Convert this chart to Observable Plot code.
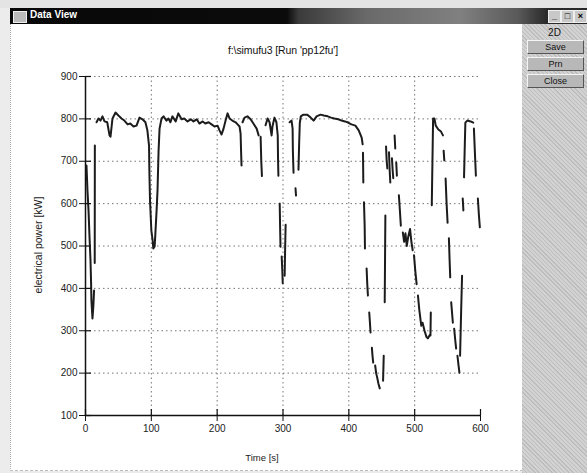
<!DOCTYPE html>
<html><head><meta charset="utf-8">
<script src="https://cdn.jsdelivr.net/npm/d3@7"></script>
<script src="https://cdn.jsdelivr.net/npm/@observablehq/plot@0.6"></script>
<style>
body{margin:0;width:587px;height:473px;overflow:hidden;background:#ececec;font-family:"Liberation Sans",Arial,sans-serif;position:relative}
#top{position:absolute;left:0;top:0;width:587px;height:8px;background:#e4e4e4}
#titlebar{position:absolute;left:10px;top:8px;width:577px;height:16px;background:linear-gradient(to right,#080808 0%,#0b0b0b 48%,#3a3a3a 50%,#6a6a6a 62%,#808080 78%,#5a5a5a 88%,#2a2a2a 93%)}
#titlebar .t{position:absolute;left:20px;top:1px;color:#fff;font-size:10px;font-weight:bold}
#titlebar .ic{position:absolute;left:3px;top:3px;width:12px;height:10px;background:#bbb;border:1px solid #eee}
.wb{position:absolute;top:2px;width:11px;height:11px;background:#c8c8c8;border:1px solid #eee;font-size:9px;line-height:11px;text-align:center;color:#000;font-weight:bold}
#win{position:absolute;left:10px;top:24px;width:512px;height:446px;background:#fff;border-left:1px dotted #aaa;border-bottom:1px dashed #bbb}
#plot{position:absolute;left:10px;top:25px}
#panel{position:absolute;left:522px;top:24px;width:65px;height:449px;background:#c9c9c9;background-image:repeating-linear-gradient(45deg,#bdbdbd 0 1px,#d2d2d2 1px 3px)}
.lbl2d{position:absolute;left:0;width:65px;top:3px;text-align:center;font-size:10px;color:#111}
.btn{position:absolute;left:5px;width:55px;height:12px;background:#b8b8b8;border:1px solid;border-color:#f4f4f4 #555 #555 #f4f4f4;font-size:9px;line-height:12px;text-align:center;color:#111}
#title{position:absolute;left:10px;width:546px;top:44px;text-align:center;font-size:10.5px;letter-spacing:-0.1px;color:#111}
#ylab{position:absolute;left:38px;top:245px;transform:translate(-50%,-50%) rotate(-90deg);font-size:10.5px;white-space:nowrap;color:#222}
#xlab{position:absolute;left:262px;top:457px;transform:translate(-50%,-50%);font-size:9.5px;color:#222}
</style></head>
<body>
<div id="top"></div>
<div id="titlebar"><div class="ic"></div><div class="t">Data View</div>
<div class="wb" style="left:538px">_</div><div class="wb" style="left:551px">□</div><div class="wb" style="left:564px">×</div></div>
<div id="win"></div>
<div id="panel"><div class="lbl2d">2D</div>
<div class="btn" style="top:16px">Save</div>
<div class="btn" style="top:33px">Prn</div>
<div class="btn" style="top:50px">Close</div></div>
<div id="plot"></div>
<div id="title">f:\simufu3 [Run 'pp12fu']</div>
<div id="ylab">electrical power [kW]</div>
<div id="xlab">Time [s]</div>
<script>
const xTicks = [0, 100, 200, 300, 400, 500, 600];
const yTicks = [100, 200, 300, 400, 500, 600, 700, 800, 900];
const xGrid = [100, 200, 300, 400, 500];
const yGrid = [200, 300, 400, 500, 600, 700, 800, 900];

// [time s, power kW] — each inner list is one unbroken piece of the trace
const traceSegments = [
  [[1.5,690],[3,631],[4.6,584],[6,525],[7.6,466],[8.4,419],[9,371],[10.6,329],[12,360],[13,395]],
  [[14,460],[14.2,737]],
  [[16.7,792],[19.8,801],[22.8,796],[25.8,806],[28.9,794],[33,792],[36.5,761],[38,758],[41,801],[45.6,815],[50,808],[54.7,801],[59,796],[64,787],[68,789],[73,782],[77.5,784],[82,803],[86.6,799],[91,792],[94,773],[96.5,737],[97,678],[98,607],[99,572],[100,537],[102,513],[103,494],[105,499],[106,525],[108,584],[109.4,631],[111,725],[112.5,777],[115.5,801],[118.5,806],[123,796],[126,801],[129,792],[132,806],[137,794],[141,813],[146,799],[150,801],[155,794],[160,799],[164,794],[169,799],[173,789],[178,794],[182,789],[187,792],[191.5,787],[196,782],[200.6,784],[203.6,773],[206.7,763],[209.7,777],[212.8,796],[215.8,813],[218.8,801],[223,796],[228,792],[231,787],[234,782],[235.6,765],[236.3,725],[237,690]],
  [[238.6,792],[241.6,803],[246,806],[250.8,799],[255,789],[260,777],[263,761]],
  [[266,758],[267,700],[268,665]],
  [[273.5,785],[276.6,801],[279.6,792],[282.7,761],[284,782],[287,803],[290,792],[292,761],[292.5,702],[293,666]],
  [[295,600],[295.6,545],[296.2,498]],
  [[298,475],[299,440],[299.6,412]],
  [[302.5,430],[303.2,490],[304,550]],
  [[310,792],[313,796],[314.6,777],[315,725],[316,673]],
  [[319,636],[319.8,619]],
  [[323.5,680],[324.5,740],[325.5,790],[327,806],[331,810],[337,810],[342,803],[346.5,796],[351,806],[357,810],[362,808],[368,806],[373,803],[378,801],[384,799],[389,796],[394,794],[398,792],[404,787],[410,784],[415,773],[419.5,756],[421,740]],
  [[421.5,720],[422,650]],
  [[423,603],[424,550],[424.5,494]],
  [[427,447],[428,410],[429,383]],
  [[431,343],[432,320],[433,296]],
  [[435,260],[436,240],[437,225]],
  [[440,218],[441.5,200],[443,190],[445,175],[447,164]],
  [[452,182],[452.5,210],[453,241]],
  [[454.5,367],[455,470],[455.5,572]],
  [[456.5,735],[457.5,700],[458.5,683]],
  [[461,721],[462,680],[463,650]],
  [[465.5,707],[466.5,680],[467.5,660]],
  [[469.5,761],[470.5,730]],
  [[472,697],[473,666]],
  [[476,620],[477.5,585],[479,548]],
  [[482,532],[484,510],[486,530],[488,500],[490,520],[493,540],[495,510],[497,490]],
  [[499,478],[501,440],[503,410]],
  [[505,383],[507,350],[510,312],[512,319],[515,300],[518,285],[520,282],[523,290]],
  [[524,289],[524.5,343]],
  [[526,596],[527,700],[528,801],[530,801],[532,784],[536,775],[540,770],[543,761]],
  [[544,725],[545,702]],
  [[547,659],[548.5,600],[550,555]],
  [[552,518],[553,470],[554,426]],
  [[555.5,367],[558,319]],
  [[560,305],[561.5,280],[563,258]],
  [[565,241],[566.5,220],[568,201]],
  [[569,241],[570.5,340],[572,430]],
  [[573,612],[574,584]],
  [[575,662],[576,730],[577,791],[580,796],[585,794],[589,791]],
  [[590,777],[591.5,720],[593,666]],
  [[596,612],[597.5,575],[599,544]]
];

const rows = traceSegments.flatMap((seg, i) => seg.map(([t, p]) => ({t, p, seg: i})));

const W = 512, H = 445, mL = 75, mR = 42, mT = 51, mB = 55;
const innerW = W - mL - mR, innerH = H - mT - mB;

const chart = Plot.plot({
  width: W, height: H,
  marginLeft: mL, marginRight: mR, marginTop: mT, marginBottom: mB,
  style: {background: "transparent", fontFamily: "'Liberation Sans', Arial, sans-serif", color: "#222"},
  x: {domain: [0, 600]},
  y: {domain: [100, 900]},
  marks: [
    Plot.gridY(yGrid, {stroke: "#666", strokeOpacity: 0.9, strokeDasharray: "1.5,3"}),
    Plot.gridX(xGrid, {stroke: "#666", strokeOpacity: 0.9, strokeDasharray: "1.5,3"}),
    Plot.line(rows, {x: "t", y: "p", z: "seg", stroke: "#1c1c1c", strokeWidth: 2, curve: "linear"}),
    Plot.ruleX([0], {stroke: "#111", strokeWidth: 1.5}),
    Plot.ruleY([100], {stroke: "#111", strokeWidth: 1.5}),
    Plot.tickY(yTicks, {y: d => d, stroke: "#111", strokeWidth: 1.2, insetRight: innerW - 6}),
    Plot.tickX(xTicks, {x: d => d, stroke: "#111", strokeWidth: 1.2, insetTop: innerH - 6}),
    Plot.axisY(yTicks, {label: null, tickSize: 6, tickPadding: 2, fontSize: 10, stroke: "#111"}),
    Plot.axisX(xTicks, {label: null, tickSize: 6, tickPadding: 3, fontSize: 10, stroke: "#111"})
  ]
});
document.getElementById("plot").appendChild(chart);
</script>
</body></html>
